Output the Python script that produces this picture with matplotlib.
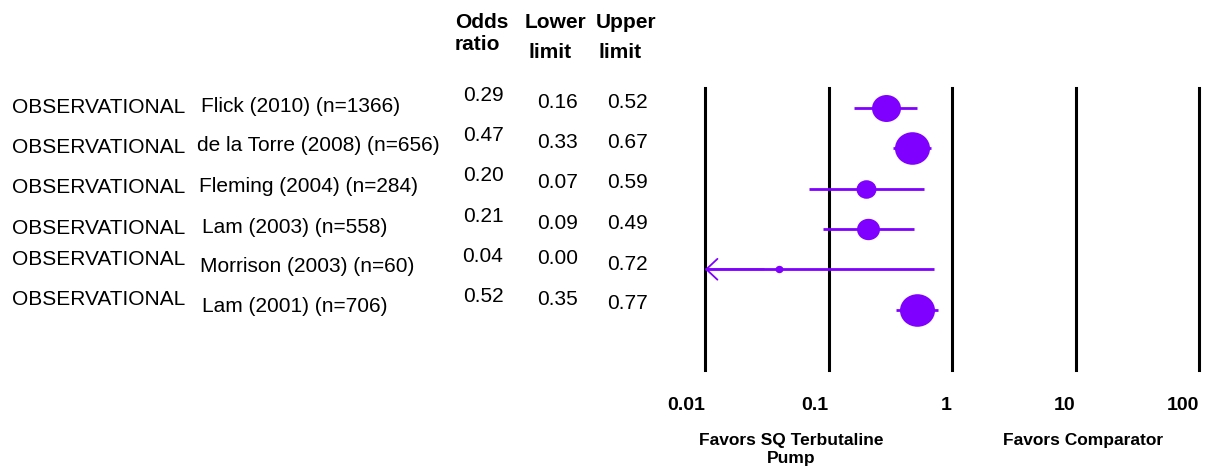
import matplotlib
matplotlib.use("Agg")
import matplotlib.pyplot as plt
import numpy as np
from matplotlib.path import Path
from matplotlib.markers import MarkerStyle
from matplotlib.transforms import blended_transform_factory

plt.rcParams['font.family'] = ['Liberation Sans', 'DejaVu Sans']

# ---------------- data ----------------
designs = ["OBSERVATIONAL"] * 6
studies = ["Flick (2010) (n=1366)", "de la Torre (2008) (n=656)",
           "Fleming (2004) (n=284)", "Lam (2003) (n=558)",
           "Morrison (2003) (n=60)", "Lam (2001) (n=706)"]
odds_ratio = [0.29, 0.47, 0.20, 0.21, 0.04, 0.52]
lower_limit = [0.16, 0.33, 0.07, 0.09, 0.00, 0.35]
upper_limit = [0.52, 0.67, 0.59, 0.49, 0.72, 0.77]
rel_weight = [22.6, 33.0, 10.7, 14.2, 1.7, 33.0]
xtick_values = [0.01, 0.1, 1, 10, 100]
xtick_labels = ["0.01", "0.1", "1", "10", "100"]
left_label = "Favors SQ Terbutaline\nPump"
right_label = "Favors Comparator"

# ---------------- layout ----------------
W, H = 1205, 472
PURPLE = "#7f00ff"
fig = plt.figure(figsize=(W / 100, H / 100), dpi=100)
fig.patch.set_facecolor("white")

def fx(px):
    return px / W

def fy(py):
    return 1 - py / H

ax_left, ax_right = 705, 1199
ax_top, ax_bot = 88, 370
ax = fig.add_axes([fx(ax_left), fy(ax_bot), fx(ax_right) - fx(ax_left), fy(ax_top) - fy(ax_bot)])
ax.set_xscale("log")
xmin, xmax = xtick_values[0], xtick_values[-1]
ax.set_xlim(xmin, xmax)
n = len(studies)
ax.set_ylim(n + 0.5, -0.5)
ax.axis("off")

for xv in xtick_values:
    ax.axvline(xv, color="black", lw=2.2, zorder=1, clip_on=False)

# ellipse-ish marker (slightly wider than tall)
circ = Path.unit_circle()
ell = Path(circ.vertices * np.array([1.0, 0.93]), circ.codes)
mk = MarkerStyle(ell)

rows = np.arange(n)
k_px = 6.1  # marker width in px per sqrt(weight)
for i in range(n):
    lo, hi, orv = lower_limit[i], upper_limit[i], odds_ratio[i]
    if lo < xmin:
        ax.plot([xmin, hi], [rows[i], rows[i]], color=PURPLE, lw=2.0, zorder=2, solid_capstyle="butt")
        ax.annotate("", xy=(xmin, rows[i]), xytext=(xmin * 3, rows[i]),
                    arrowprops=dict(arrowstyle="->,head_length=0.8,head_width=0.75",
                                    color=PURPLE, lw=1.3, shrinkA=0, shrinkB=0),
                    zorder=3, annotation_clip=False)
    else:
        ax.plot([lo, hi], [rows[i], rows[i]], color=PURPLE, lw=2.0, zorder=2, solid_capstyle="butt")
    d_pt = k_px * np.sqrt(rel_weight[i]) * 0.72
    ax.scatter([orv], [rows[i]], s=d_pt ** 2, marker=mk, color=PURPLE, zorder=4, linewidths=0)

# text columns (y in data coordinates, x in figure pixels)
trans = blended_transform_factory(fig.transFigure, ax.transData)
row_px = 40.3

def ty(i, off_px):
    return rows[i] + off_px / row_px

FS = 15
design_off = [-1, -1, -1, -1, -10, -10]
study_x = [201, 197, 199, 202, 200, 202]
study_off = [-2, -3, -2, -2, -3, -3]
lower_off = [-6, -6, -6, -6, -11, -10]
upper_off = [-6, -6, -6, -6, -5, -6]
for i in range(n):
    ax.text(fx(12), ty(i, design_off[i]), designs[i], transform=trans, fontsize=FS,
            ha="left", va="center", clip_on=False)
    ax.text(fx(study_x[i]), ty(i, study_off[i]), studies[i], transform=trans, fontsize=FS,
            ha="left", va="center", clip_on=False)
    ax.text(fx(483), ty(i, -13), f"{odds_ratio[i]:.2f}", transform=trans, fontsize=FS,
            ha="center", va="center", clip_on=False)
    ax.text(fx(558), ty(i, lower_off[i]), f"{lower_limit[i]:.2f}", transform=trans,
            fontsize=FS, ha="center", va="center", clip_on=False)
    ax.text(fx(627), ty(i, upper_off[i]), f"{upper_limit[i]:.2f}", transform=trans, fontsize=FS,
            ha="center", va="center", clip_on=False)

# column headers
HFS = 15
fig.text(fx(455), fy(23), "Odds", fontsize=HFS, fontweight="bold", ha="left", va="center")
fig.text(fx(455), fy(45), "ratio", fontsize=HFS, fontweight="bold", ha="left", va="center")
fig.text(fx(525), fy(23), "Lower", fontsize=HFS, fontweight="bold", ha="left", va="center")
fig.text(fx(529), fy(52), "limit", fontsize=HFS, fontweight="bold", ha="left", va="center")
fig.text(fx(596), fy(23), "Upper", fontsize=HFS, fontweight="bold", ha="left", va="center")
fig.text(fx(598), fy(52), "limit", fontsize=HFS, fontweight="bold", ha="left", va="center")

# tick labels (right aligned to the gridlines)
tick_trans = blended_transform_factory(ax.transData, fig.transFigure)
for xv, lab in zip(xtick_values, xtick_labels):
    ax.text(xv, fy(405), lab, transform=tick_trans, fontsize=14, fontweight="bold",
            ha="right", va="center", clip_on=False)

fig.text(fx(791), fy(433), left_label, fontsize=12.5, fontweight="bold", ha="center",
         va="top", linespacing=1.25)
fig.text(fx(1083), fy(433), right_label, fontsize=12.5, fontweight="bold", ha="center",
         va="top")

fig.savefig("out.png", dpi=100, facecolor="white")
